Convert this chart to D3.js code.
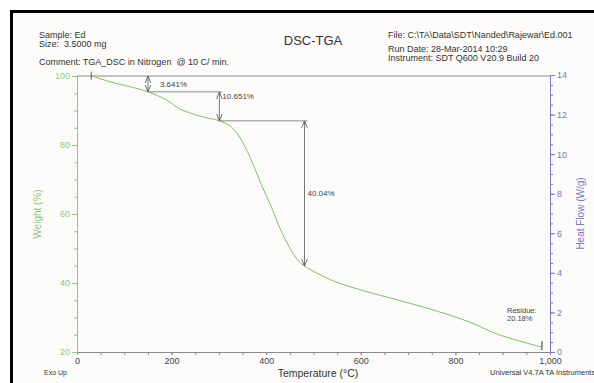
<!DOCTYPE html>
<html>
<head>
<meta charset="utf-8">
<script src="https://cdn.jsdelivr.net/npm/d3@7"></script>
<style>
  body { margin: 0; background: #fff; }
  text { font-family: "Liberation Sans", Arial, sans-serif; white-space: pre; }
</style>
</head>
<body>
<div id="chart"></div>
<script>
// weight curve
const temps = [30, 70, 106, 150, 190, 218, 239, 267, 301, 329, 350, 371, 392, 411, 428, 449, 470, 481, 505, 535, 580, 639, 738, 835, 892, 935, 983];
const weights = [100.1, 98.3, 97.1, 95.4, 93.0, 90.4, 89.3, 88.1, 87.0, 84.9, 80.9, 74.8, 67.8, 62.0, 56.2, 50.4, 46.1, 44.9, 43.0, 41.0, 38.8, 36.5, 32.8, 28.4, 25.0, 23.2, 21.4];

// step annotations
const stepTemps = [150, 301, 481];
const stepFrom = [100, 95.4, 87.0];
const stepTo = [95.4, 87.0, 44.9];
const stepLabels = ["3.641%", "10.651%", "40.04%"];

const xTicks = [0, 200, 400, 600, 800, 1000];
const weightTicks = [20, 40, 60, 80, 100];
const heatTicks = [0, 2, 4, 6, 8, 10, 12, 14];

const width = 594;
const height = 383;
const margin = { top: 76, right: 44, bottom: 31, left: 77 };

const green = "#7fc06a";
const greenText = "#8cc97a";
const purple = "#7a78bb";
const gray = "#8a8a8a";

const x = d3.scaleLinear().domain([0, 1000]).range([margin.left, width - margin.right]);
const yW = d3.scaleLinear().domain([20, 100]).range([height - margin.bottom, margin.top]);
const yH = d3.scaleLinear().domain([0, 14]).range([height - margin.bottom, margin.top - 1]);

const svg = d3.select("#chart").append("svg")
  .attr("width", width)
  .attr("height", height);

// page frame
svg.append("rect").attr("x", 12).attr("y", 12).attr("width", width - 12).attr("height", height - 12)
  .attr("fill", "#fcfbf9");
svg.append("line").attr("x1", 10).attr("x2", width).attr("y1", 11.5).attr("y2", 11.5)
  .attr("stroke", "#000").attr("stroke-width", 3);
svg.append("line").attr("x1", 11.5).attr("x2", 11.5).attr("y1", 10).attr("y2", height)
  .attr("stroke", "#000").attr("stroke-width", 3);

// header texts
const header = svg.append("g").attr("font-size", 9).attr("fill", "#333");
header.append("text").attr("x", 39).attr("y", 38).text("Sample: Ed");
header.append("text").attr("x", 39).attr("y", 47).text("Size:  3.5000 mg");
header.append("text").attr("x", 39).attr("y", 65).text("Comment: TGA_DSC in Nitrogen  @ 10 C/ min.");
header.append("text").attr("x", 388).attr("y", 38).text("File: C:\\TA\\Data\\SDT\\Nanded\\Rajewar\\Ed.001");
header.append("text").attr("x", 388).attr("y", 52).text("Run Date: 28-Mar-2014 10:29");
header.append("text").attr("x", 388).attr("y", 61).text("Instrument: SDT Q600 V20.9 Build 20");
svg.append("text").attr("x", 313).attr("y", 45).attr("text-anchor", "middle")
  .attr("font-size", 13).attr("fill", "#333").text("DSC-TGA");

// top line
svg.append("line").attr("x1", x(0)).attr("x2", x(1000)).attr("y1", yW(100)).attr("y2", yW(100))
  .attr("stroke", gray).attr("stroke-width", 1);

// x axis
const xAxisG = svg.append("g").attr("transform", `translate(0,${yW(20)})`);
xAxisG.call(d3.axisBottom(x).tickValues(d3.range(0, 1001, 50)).tickSize(3).tickFormat(""));
xAxisG.call(g => g.append("g").call(d3.axisBottom(x).tickValues(xTicks).tickSize(3).tickPadding(3)));
xAxisG.selectAll("path, line").attr("stroke", gray);
xAxisG.selectAll("text").attr("font-size", 9).attr("fill", "#444").attr("font-family", "Liberation Sans, Arial");

// left axis (weight)
const yAxisG = svg.append("g").attr("transform", `translate(${margin.left},0)`);
yAxisG.call(d3.axisLeft(yW).tickValues(d3.range(20, 101, 5)).tickSize(3).tickFormat(""));
yAxisG.call(g => g.append("g").call(d3.axisLeft(yW).tickValues(weightTicks).tickSize(5).tickPadding(2)));
yAxisG.selectAll("path, line").attr("stroke", greenText);
yAxisG.selectAll("text").attr("font-size", 9).attr("fill", greenText).attr("font-family", "Liberation Sans, Arial");

// right axis (heat flow)
const rAxisG = svg.append("g").attr("transform", `translate(${width - margin.right},0)`);
rAxisG.call(d3.axisRight(yH).tickValues(d3.range(0, 14.01, 0.5)).tickSize(3).tickFormat(""));
rAxisG.call(g => g.append("g").call(d3.axisRight(yH).tickValues(heatTicks).tickSize(5).tickPadding(2)));
rAxisG.selectAll("path, line").attr("stroke", purple);
rAxisG.selectAll("text").attr("font-size", 9).attr("fill", purple).attr("font-family", "Liberation Sans, Arial");

// axis titles
svg.append("text").attr("transform", `translate(41,${yW(60)}) rotate(-90)`)
  .attr("text-anchor", "middle").attr("font-size", 10).attr("fill", greenText).text("Weight (%)");
svg.append("text").attr("transform", `translate(584,${yH(7)}) rotate(-90)`)
  .attr("text-anchor", "middle").attr("font-size", 10).attr("fill", purple).text("Heat Flow (W/g)");
svg.append("text").attr("x", 318).attr("y", 377).attr("text-anchor", "middle")
  .attr("font-size", 10.5).attr("fill", "#333").text("Temperature (°C)");
svg.append("text").attr("x", 44).attr("y", 375).attr("font-size", 7).attr("fill", "#333").text("Exo Up");
svg.append("text").attr("x", 490).attr("y", 375).attr("font-size", 7.5).attr("fill", "#333").text("Universal V4.7A TA Instruments");

// weight curve
const line = d3.line()
  .x((_, i) => x(temps[i]))
  .y(d => yW(d))
  .curve(d3.curveMonotoneX);
svg.append("path").datum(weights)
  .attr("fill", "none").attr("stroke", green).attr("stroke-width", 1).attr("d", line);

// start / end marks
svg.append("line").attr("x1", x(temps[0])).attr("x2", x(temps[0]))
  .attr("y1", yW(weights[0]) - 4).attr("y2", yW(weights[0]) + 4).attr("stroke", "#555");
const last = temps.length - 1;
svg.append("line").attr("x1", x(temps[last])).attr("x2", x(temps[last]))
  .attr("y1", yW(weights[last]) - 6).attr("y2", yW(weights[last]) + 3).attr("stroke", "#333");
svg.append("text").attr("x", 507).attr("y", 313).attr("font-size", 7.5).attr("fill", "#444").text("Residue:");
svg.append("text").attr("x", 507).attr("y", 321).attr("font-size", 7.5).attr("fill", "#444").text("20.18%");

// arrow markers
const defs = svg.append("defs");
["start", "end"].forEach(name => {
  defs.append("marker").attr("id", "arr-" + name)
    .attr("viewBox", "0 0 10 10").attr("refX", 10).attr("refY", 5)
    .attr("markerWidth", 7).attr("markerHeight", 7).attr("markerUnits", "userSpaceOnUse")
    .attr("orient", name === "start" ? "auto-start-reverse" : "auto")
    .append("path").attr("d", "M0,1 L10,5 L0,9").attr("fill", "none").attr("stroke", "#555").attr("stroke-width", 1.2);
});

// step lines
stepTemps.forEach((t, i) => {
  if (i > 0) {
    svg.append("line").attr("x1", x(stepTemps[i - 1])).attr("x2", x(t) + 3)
      .attr("y1", yW(stepFrom[i])).attr("y2", yW(stepFrom[i]))
      .attr("stroke", gray).attr("stroke-width", 1);
  }
  svg.append("line").attr("x1", x(t)).attr("x2", x(t))
    .attr("y1", yW(stepFrom[i])).attr("y2", yW(stepTo[i]))
    .attr("stroke", "#555").attr("stroke-width", 0.8)
    .attr("marker-start", "url(#arr-start)").attr("marker-end", "url(#arr-end)");
});
const labelFrac = [0.5, 0.15, 0.5];
stepLabels.forEach((lab, i) => {
  const y0 = yW(stepFrom[i]), y1 = yW(stepTo[i]);
  svg.append("text")
    .attr("x", x(stepTemps[i]) + (i === 0 ? 12 : 3))
    .attr("y", y0 + (y1 - y0) * labelFrac[i] + 3)
    .attr("font-size", 8).attr("fill", "#444").text(lab);
});
</script>
</body>
</html>
